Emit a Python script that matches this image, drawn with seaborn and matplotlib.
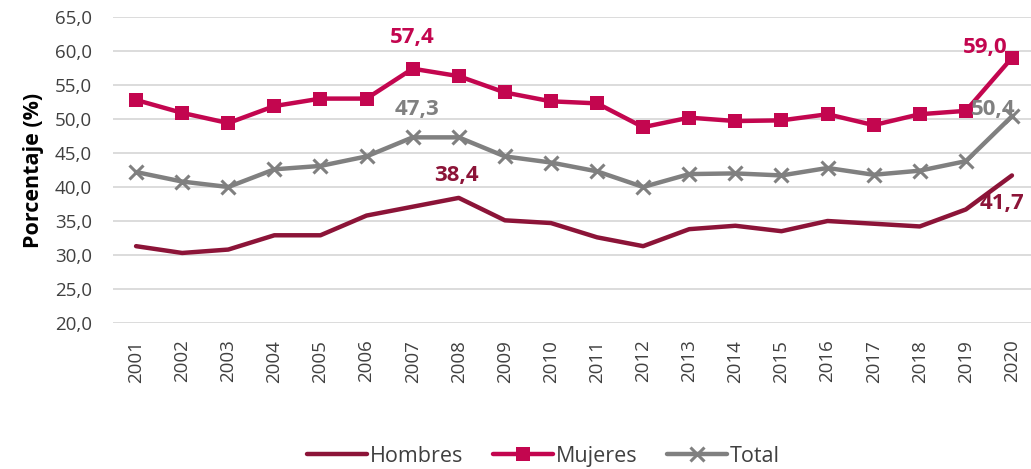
import matplotlib
matplotlib.use("Agg")
import matplotlib.pyplot as plt
import seaborn as sns
import pandas as pd

# --- datos ---
anios = list(range(2001, 2021))
hombres = [31.3, 30.3, 30.8, 32.9, 32.9, 35.8, 37.1, 38.4, 35.1, 34.7,
           32.6, 31.3, 33.8, 34.3, 33.5, 35.0, 34.6, 34.2, 36.7, 41.7]
mujeres = [52.8, 50.9, 49.4, 51.9, 53.0, 53.0, 57.4, 56.3, 53.9, 52.6,
           52.3, 48.8, 50.2, 49.7, 49.8, 50.7, 49.1, 50.7, 51.2, 59.0]
total = [42.2, 40.8, 40.0, 42.6, 43.1, 44.5, 47.3, 47.3, 44.5, 43.6,
         42.3, 40.0, 41.9, 42.0, 41.7, 42.8, 41.8, 42.4, 43.8, 50.4]
y_ticks = [20, 25, 30, 35, 40, 45, 50, 55, 60, 65]

# etiquetas destacadas: (serie, año, desplazamiento en px)
etiquetas = [
    ("Mujeres", 2007, (0, 31)),
    ("Total", 2007, (4, 28)),
    ("Hombres", 2008, (-2, 22)),
    ("Mujeres", 2020, (-27, 10)),
    ("Total", 2020, (-19, 7)),
    ("Hombres", 2020, (-10, -28)),
]

sns.set_theme(style="white")
plt.rcParams["font.family"] = ["Open Sans", "DejaVu Sans"]

colores = {"Hombres": "#8C1438", "Mujeres": "#C3064F", "Total": "#808080"}
series = {"Hombres": hombres, "Mujeres": mujeres, "Total": total}
estilos = {
    "Hombres": dict(marker=None),
    "Mujeres": dict(marker="s", markersize=9.5, markeredgewidth=0),
    "Total": dict(marker="x", markersize=10, markeredgewidth=2.2,
                  markeredgecolor=colores["Total"]),
}

fig = plt.figure(figsize=(10.31, 4.69), dpi=100)
ax = fig.add_axes([113 / 1031, (469 - 323) / 469, 922 / 1031, 306 / 469])

for nombre, valores in series.items():
    df = pd.DataFrame({"Año": anios, "Valor": valores})
    sns.lineplot(data=df, x="Año", y="Valor", ax=ax, color=colores[nombre],
                 linewidth=3.2, label=nombre, clip_on=False, **estilos[nombre])

for nombre, anio, off in etiquetas:
    v = series[nombre][anios.index(anio)]
    ax.annotate(f"{v:.1f}".replace(".", ","), (anio, v), xytext=off,
                textcoords="offset pixels", ha="center", va="center",
                fontsize=16, fontweight="bold", color=colores[nombre])

ax.set_xlim(2000.5, 2020.5)
ax.set_ylim(20, 65)
ax.set_yticks(y_ticks)
ax.set_yticklabels([f"{t:.1f}".replace(".", ",") for t in y_ticks],
                   fontsize=13.5, color="#404040")
ax.set_xticks(anios)
ax.set_xticklabels([str(a) for a in anios], rotation=90, fontsize=13.5,
                   color="#404040")
ax.tick_params(axis="y", length=0, pad=15)
ax.tick_params(axis="x", length=0, pad=12)
ax.grid(axis="y", color="#d9d9d9", linewidth=1.3)
ax.set_axisbelow(True)
for s in ax.spines.values():
    s.set_visible(False)
ax.set_xlabel("")
ax.set_ylabel("Porcentaje (%)", fontsize=15.5, fontweight="bold",
              color="black", labelpad=8)

handles, labels = ax.get_legend_handles_labels()
ax.get_legend().remove()
fig.legend(handles, labels, loc="center", bbox_to_anchor=(0.527, 0.027),
           ncol=3, frameon=False, fontsize=15.5, handlelength=2.8,
           columnspacing=1.4, handletextpad=0.1, labelcolor="#404040")

fig.savefig("out.png", dpi=100)
